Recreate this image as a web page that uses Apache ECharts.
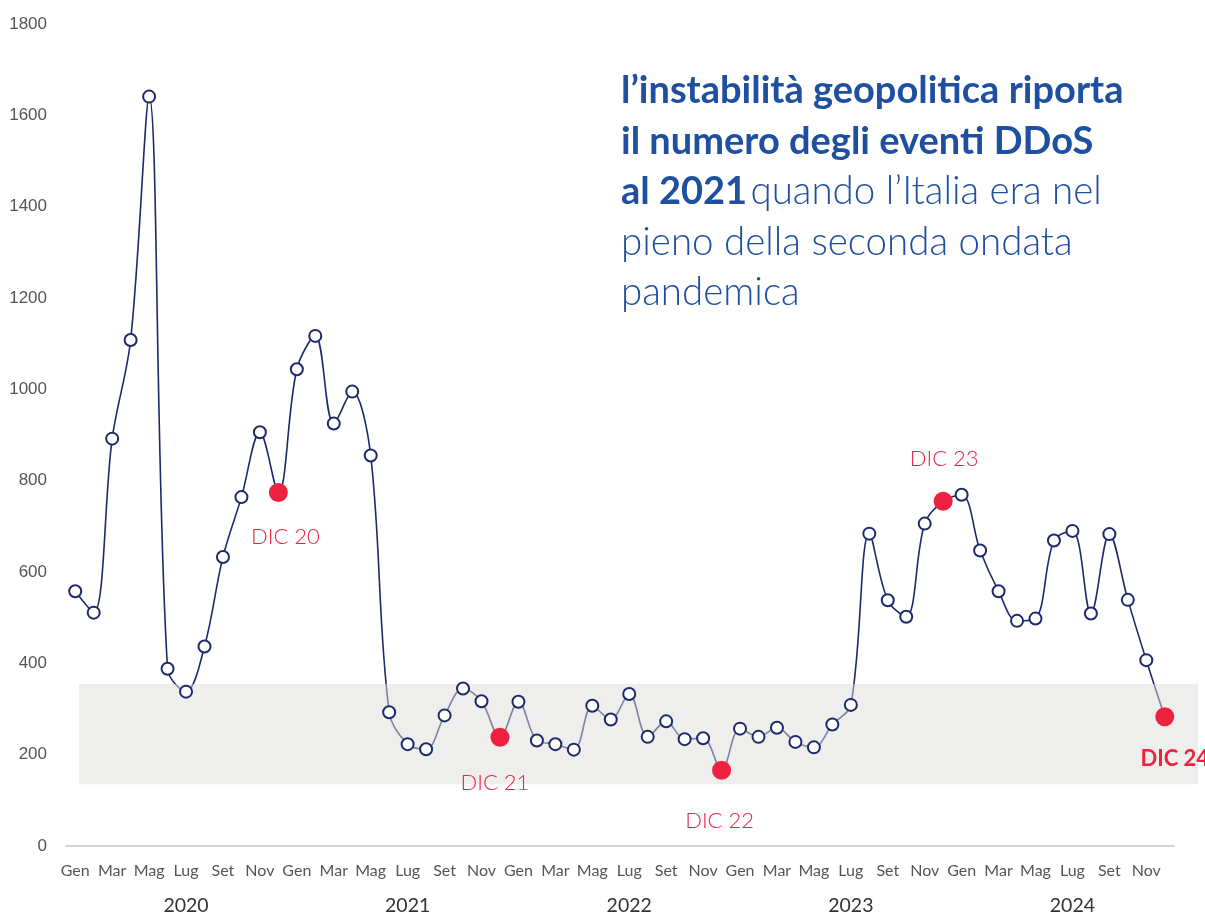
<!DOCTYPE html>
<html>
<head>
<meta charset="utf-8">
<script src="https://cdn.jsdelivr.net/npm/echarts@6/dist/echarts.min.js"></script>
<style>
  html, body { margin: 0; padding: 0; background: #fff; }
  #main { width: 1205px; height: 913px; }
</style>
</head>
<body>
<div id="main"></div>
<script>
// mesi (etichette ogni due mesi) e anni
var months = ['Gen', 'Feb', 'Mar', 'Apr', 'Mag', 'Giu', 'Lug', 'Ago', 'Set', 'Ott', 'Nov', 'Dic']
var years = ['2020', '2021', '2022', '2023', '2024']
var yTicks = [0, 200, 400, 600, 800, 1000, 1200, 1400, 1600, 1800]

// eventi DDoS mensili, gen 2020 - dic 2024
var ddos2020 = [558, 511, 892, 1108, 1641, 388, 338, 437, 633, 764, 906, 774]
var ddos2021 = [1044, 1117, 925, 995, 855, 293, 223, 212, 286, 345, 317, 238]
var ddos2022 = [316, 231, 223, 211, 307, 277, 333, 239, 273, 234, 236, 166]
var ddos2023 = [257, 239, 259, 228, 216, 266, 309, 684, 538, 502, 706, 755]
var ddos2024 = [769, 647, 558, 493, 498, 669, 690, 509, 683, 539, 407, 283]

var bandRange = [135, 355] // fascia grigia

var categories = []
years.forEach(function (y) {
  months.forEach(function (m) { categories.push(m + ' ' + y) })
})
var values = ddos2020.concat(ddos2021, ddos2022, ddos2023, ddos2024)

var navy = '#1c2a6b'
var red = '#ee2240'

// punti di dicembre evidenziati
var decPoints = []
var decLabels = [
  { text: 'DIC 20', pos: 'bottom', dx: 7, dy: 19, bold: false },
  { text: 'DIC 21', pos: 'bottom', dx: -5, dy: 20, bold: false },
  { text: 'DIC 22', pos: 'bottom', dx: -2, dy: 25, bold: false },
  { text: 'DIC 23', pos: 'top', dx: 1, dy: -17, bold: false },
  { text: 'DIC 24', pos: 'bottom', dx: 10, dy: 17, bold: true }
]
decLabels.forEach(function (l, i) {
  var idx = i * 12 + 11
  decPoints.push({
    value: [idx, values[idx]],
    label: {
      show: true,
      position: l.pos,
      offset: [l.dx, l.dy],
      formatter: l.text,
      color: red,
      fontSize: 22,
      fontWeight: l.bold ? 'bold' : 300,
      fontFamily: 'Lato'
    }
  })
})

var myChart = echarts.init(document.getElementById('main'))

myChart.setOption({
  animation: false,
  grid: { left: 66, right: 31, top: 24, bottom: 67, containLabel: false, outerBoundsMode: 'none' },
  xAxis: [
    {
      type: 'category',
      data: categories,
      boundaryGap: true,
      axisLine: { lineStyle: { color: '#d2d2d2', width: 2 } },
      axisTick: { show: false },
      axisLabel: {
        interval: 1,
        margin: 17,
        color: '#555',
        fontSize: 16,
        fontFamily: 'Lato',
        formatter: function (v) { return v.split(' ')[0] }
      }
    },
    {
      type: 'category',
      data: categories,
      position: 'bottom',
      boundaryGap: true,
      axisLine: { show: false },
      axisTick: { show: false },
      axisLabel: {
        interval: function (i) { return i % 12 === 6 },
        margin: 50,
        color: '#333',
        fontSize: 19.5,
        fontFamily: 'Lato',
        formatter: function (v) { return v.split(' ')[1] }
      }
    }
  ],
  yAxis: {
    type: 'value',
    min: yTicks[0],
    max: yTicks[yTicks.length - 1],
    interval: 200,
    axisLine: { show: false },
    axisTick: { show: false },
    splitLine: { show: false },
    axisLabel: {
      color: '#555',
      fontSize: 17,
      margin: 19,
      fontFamily: 'Liberation Sans',
      formatter: function (v) { return String(v) }
    }
  },
  series: [
    {
      type: 'line',
      data: values,
      smooth: 0.35,
      symbol: 'none',
      z: 1,
      lineStyle: { color: navy, width: 1.6 }
    },
    {
      type: 'line',
      data: values,
      z: 3,
      symbol: 'circle',
      symbolSize: 12,
      showAllSymbol: true,
      lineStyle: { opacity: 0 },
      itemStyle: { color: '#fff', borderColor: navy, borderWidth: 2 }
    },
    {
      type: 'scatter',
      data: decPoints,
      z: 4,
      symbolSize: 19,
      itemStyle: { color: red, opacity: 1 }
    }
  ]
})

// fascia grigia (sotto i marker, sopra la linea) e testo del titolo
var yTop = myChart.convertToPixel({ yAxisIndex: 0 }, bandRange[1])
var yBot = myChart.convertToPixel({ yAxisIndex: 0 }, bandRange[0])
myChart.setOption({
  graphic: [
    {
      type: 'rect',
      z: 2,
      silent: true,
      shape: { x: 79, y: yTop, width: 1119, height: yBot - yTop },
      style: { fill: 'rgba(222,222,218,0.5)' }
    },
    {
      type: 'text',
      left: 621,
      top: 72,
      z: 5,
      style: {
        text: '{b|l’instabilità geopolitica riporta}\n{b|il numero degli eventi DDoS}\n{b|al 2021} {n|quando l’Italia era nel}\n{n|pieno della seconda ondata}\n{n|pandemica}',
        rich: {
          b: { fontFamily: 'Lato', fontWeight: 'bold', fontSize: 38, lineHeight: 50.5, fill: '#1f4fa0' },
          n: { fontFamily: 'Lato', fontWeight: 300, fontSize: 38.5, lineHeight: 50.5, fill: '#1f4fa0' }
        }
      }
    }
  ]
})
</script>
</body>
</html>
